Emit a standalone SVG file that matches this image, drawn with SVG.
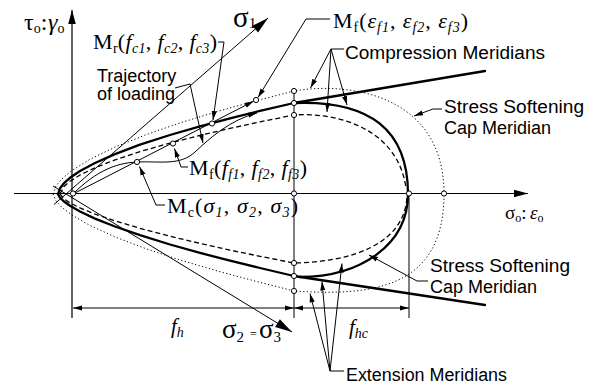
<svg xmlns="http://www.w3.org/2000/svg" width="593" height="385" viewBox="0 0 593 385">
<style>
.ax{stroke:#000;stroke-width:1.2;fill:none}
.thick{stroke:#000;stroke-width:2.3;fill:none;stroke-linejoin:round;stroke-linecap:round}
.dash{stroke:#000;stroke-width:1.3;fill:none;stroke-dasharray:5 3}
.dot{stroke:#000;stroke-width:1;fill:none;stroke-dasharray:1.2 2.4}
.thin{stroke:#000;stroke-width:1;fill:none}
.pt{fill:#fff;stroke:#000;stroke-width:1}
.lbl{font-family:"Liberation Sans",Arial,sans-serif;font-size:18px;fill:#000}
.m{font-family:"Liberation Serif","Times New Roman",serif;font-size:22px;fill:#000}
.i{font-style:italic}
.s{font-size:14px}
</style>
<defs>
<marker id="a" viewBox="-9 -4 10 8" refX="0" refY="0" markerWidth="10" markerHeight="8" markerUnits="userSpaceOnUse" orient="auto-start-reverse"><path d="M0,0 L-9,-2.6 L-9,2.6 z" fill="#000"/></marker>
<marker id="big" viewBox="-18 -6 19 12" refX="0" refY="0" markerWidth="19" markerHeight="12" markerUnits="userSpaceOnUse" orient="auto"><path d="M0,0 L-17,-4.5 L-17,4.5 z" fill="#000"/></marker>
<marker id="axm" viewBox="-15 -5 16 10" refX="0" refY="0" markerWidth="16" markerHeight="10" markerUnits="userSpaceOnUse" orient="auto"><path d="M0,0 L-14,-3.8 L-14,3.8 z" fill="#000"/></marker>
</defs>

<g id="axes">
<line class="ax" x1="72" y1="318" x2="72" y2="10" marker-end="url(#axm)"/>
<line class="ax" x1="14" y1="193.5" x2="528" y2="193.5" marker-end="url(#axm)"/>
<line class="thin" x1="294" y1="91" x2="294" y2="318"/>
<line class="thin" x1="409" y1="194" x2="409" y2="318"/>
</g>

<g id="principal-axes">
<line class="thin" x1="54" y1="204.5" x2="268" y2="18" marker-end="url(#big)"/>
<line class="thin" x1="53" y1="186" x2="292" y2="332" marker-end="url(#big)"/>
</g>

<g id="compression-meridians">
<path class="thick" d="M58,194 L60,188.3 L64,183.2 L70,177.8 L80,171 L95,163 L115,154.1 L140,144.7 L170,135 L200,126.3 L230,118.3 L260,110.9 L294,103 L485,71"/>
<path class="dash" d="M60,194 L64,186.5 L70,181.3 L80,175 L95,167.8 L115,159.9 L140,151.6 L173,142.2 L200,135.4 L230,128.4 L260,121.9 L294,115 C340,112 398,130 406,188"/>
<path class="dot" d="M53,194 L56,185.9 L62,178.7 L72,170.4 L90,159.3 L115,147.1 L145,135.1 L180,122.9 L220,110.7 L257,100.5 L294,91 C345,82 444,92 444,194"/>
</g>

<g id="extension-meridians">
<path class="thick" d="M58,194 L60,197.7 L64,201.5 L70,205.8 L80,211.5 L95,218.6 L115,226.5 L140,235.2 L170,244.5 L200,252.9 L230,260.7 L260,268 L294,276 L485,305"/>
<path class="dash" d="M60,194 L64,198.9 L70,202.9 L80,207.9 L95,214.1 L115,220.9 L140,228.3 L170,236.2 L200,243.4 L230,250.1 L260,256.3 L294,263 C350,262 405,245 407,196"/>
<path class="dot" d="M53,194 L56,201 L62,207.5 L72,215.1 L90,225.5 L115,236.9 L145,248.4 L180,260 L220,271.7 L257,281.6 L294,291 C370,296 444,290 444,194"/>
</g>

<g id="cap">
<path class="thick" d="M300,277 C360,277 408,245 408,194 C408,130 370,100 294,103"/>
</g>

<g id="loading">
<line class="thin" x1="73" y1="194" x2="253.6" y2="101.2" marker-end="url(#a)"/>
<path class="thin" d="M73,194 C95,172 115,163 137,162 C160,161 180,166 195,152 C210,138 230,120 257,113" marker-end="url(#a)"/>
</g>

<g id="dimensions">
<line class="thin" x1="73" y1="308" x2="294" y2="308" marker-start="url(#a)" marker-end="url(#a)"/>
<line class="thin" x1="294" y1="308" x2="409" y2="308" marker-start="url(#a)" marker-end="url(#a)"/>
</g>

<g id="connectors">
<path class="thin" d="M218,42 L224,42 L213,120" marker-end="url(#a)"/>
<path class="thin" d="M330,19 L306,19 L258,97.5" marker-end="url(#a)"/>
<path class="thin" d="M175,88 L190,84 L203,143" marker-end="url(#a)"/>
<path class="thin" d="M344,49 L331,49"/>
<path class="thin" d="M331,49 L310.5,88" marker-end="url(#a)"/>
<path class="thin" d="M331,49 L327,112" marker-end="url(#a)"/>
<path class="thin" d="M331,49 L347,105" marker-end="url(#a)"/>
<path class="thin" d="M442,109 L433,109 L414,116" marker-end="url(#a)"/>
<path class="thin" d="M428,281 L417,281 L369,255" marker-end="url(#a)"/>
<path class="thin" d="M344,371 L330,371"/>
<path class="thin" d="M330,371 L310,293.5" marker-end="url(#a)"/>
<path class="thin" d="M330,371 L322,281.5" marker-end="url(#a)"/>
<path class="thin" d="M330,371 L342,263.5" marker-end="url(#a)"/>
<path class="thin" d="M188,167 L181,167 L174.5,148.5" marker-end="url(#a)"/>
<path class="thin" d="M165,205 L156,205 L139.5,166.5" marker-end="url(#a)"/>
</g>

<g id="points">
<circle class="pt" cx="73" cy="193.5" r="2.6"/>
<circle class="pt" cx="294" cy="193.5" r="2.6"/>
<circle class="pt" cx="409" cy="193.5" r="2.6"/>
<circle class="pt" cx="444" cy="193.5" r="2.6"/>
<circle class="pt" cx="294" cy="91" r="2.6"/>
<circle class="pt" cx="294" cy="103" r="2.6"/>
<circle class="pt" cx="294" cy="115" r="2.6"/>
<circle class="pt" cx="294" cy="263" r="2.6"/>
<circle class="pt" cx="294" cy="276" r="2.6"/>
<circle class="pt" cx="294" cy="291" r="2.6"/>
<circle class="pt" cx="137" cy="162" r="2.6"/>
<circle class="pt" cx="173" cy="143.5" r="2.6"/>
<circle class="pt" cx="212" cy="123.5" r="2.6"/>
<circle class="pt" cx="256" cy="100" r="2.6"/>
</g>

<g id="labels">
<text class="m" x="24" y="30" style="font-size:24px">τ<tspan class="s" dy="3">o</tspan><tspan dy="-3">:</tspan><tspan class="i" x="48">γ</tspan><tspan class="s" dy="3">o</tspan></text>
<text class="m" x="505" y="219" style="font-size:19px">σ<tspan class="s" style="font-size:12px" dy="3">o</tspan><tspan dy="-3">:</tspan><tspan class="i" x="530">ε</tspan><tspan class="s" style="font-size:12px" dy="3">o</tspan></text>
<text class="m" x="233" y="27" style="font-size:29px">σ<tspan style="font-size:15px" dy="1">1</tspan></text>
<text class="m" x="222" y="338" style="font-size:27px">σ<tspan style="font-size:15px" dy="4">2</tspan><tspan style="font-size:12px" dy="-4" x="250">=</tspan><tspan x="259">σ</tspan><tspan style="font-size:15px" dy="4">3</tspan></text>
<text class="m i" x="171" y="333" style="font-size:21px">f<tspan class="s" dy="4">h</tspan></text>
<text class="m i" x="349" y="334" style="font-size:21px">f<tspan class="s" dy="4">hc</tspan></text>
<text class="m" x="93" y="49" textLength="124" lengthAdjust="spacing">M<tspan class="s" dy="4">r</tspan><tspan dy="-4">(</tspan><tspan class="i">f</tspan><tspan class="s i" dy="4">c1</tspan><tspan dy="-4">, </tspan><tspan class="i">f</tspan><tspan class="s i" dy="4">c2</tspan><tspan dy="-4">, </tspan><tspan class="i">f</tspan><tspan class="s i" dy="4">c3</tspan><tspan dy="-4">)</tspan></text>
<text class="m" x="333" y="28" textLength="135" lengthAdjust="spacing">M<tspan class="s" dy="4">f</tspan><tspan dy="-4">(</tspan><tspan class="i">ε</tspan><tspan class="s i" dy="4">f1</tspan><tspan dy="-4">, </tspan><tspan class="i">ε</tspan><tspan class="s i" dy="4">f2</tspan><tspan dy="-4">, </tspan><tspan class="i">ε</tspan><tspan class="s i" dy="4">f3</tspan><tspan dy="-4">)</tspan></text>
<text class="m" x="189" y="175" textLength="118" lengthAdjust="spacing">M<tspan class="s" dy="4">f</tspan><tspan dy="-4">(</tspan><tspan class="i">f</tspan><tspan class="s i" dy="4">f1</tspan><tspan dy="-4">, </tspan><tspan class="i">f</tspan><tspan class="s i" dy="4">f2</tspan><tspan dy="-4">, </tspan><tspan class="i">f</tspan><tspan class="s i" dy="4">f3</tspan><tspan dy="-4">)</tspan></text>
<text class="m" x="167" y="213" textLength="131" lengthAdjust="spacing">M<tspan class="s" dy="4">c</tspan><tspan dy="-4">(</tspan><tspan class="i">σ</tspan><tspan class="s i" dy="4">1</tspan><tspan dy="-4">, </tspan><tspan class="i">σ</tspan><tspan class="s i" dy="4">2</tspan><tspan dy="-4">, </tspan><tspan class="i">σ</tspan><tspan class="s i" dy="4">3</tspan><tspan dy="-4">)</tspan></text>
<text class="lbl" x="97" y="82">Trajectory</text>
<text class="lbl" x="97" y="100">of loading</text>
<text class="lbl" x="345" y="59" textLength="200" lengthAdjust="spacingAndGlyphs">Compression Meridians</text>
<text class="lbl" x="444" y="113" textLength="140" lengthAdjust="spacingAndGlyphs">Stress Softening</text>
<text class="lbl" x="444" y="134">Cap Meridian</text>
<text class="lbl" x="430" y="272" textLength="140" lengthAdjust="spacingAndGlyphs">Stress Softening</text>
<text class="lbl" x="430" y="293">Cap Meridian</text>
<text class="lbl" x="346" y="381" textLength="161" lengthAdjust="spacingAndGlyphs">Extension Meridians</text>
</g>
</svg>
